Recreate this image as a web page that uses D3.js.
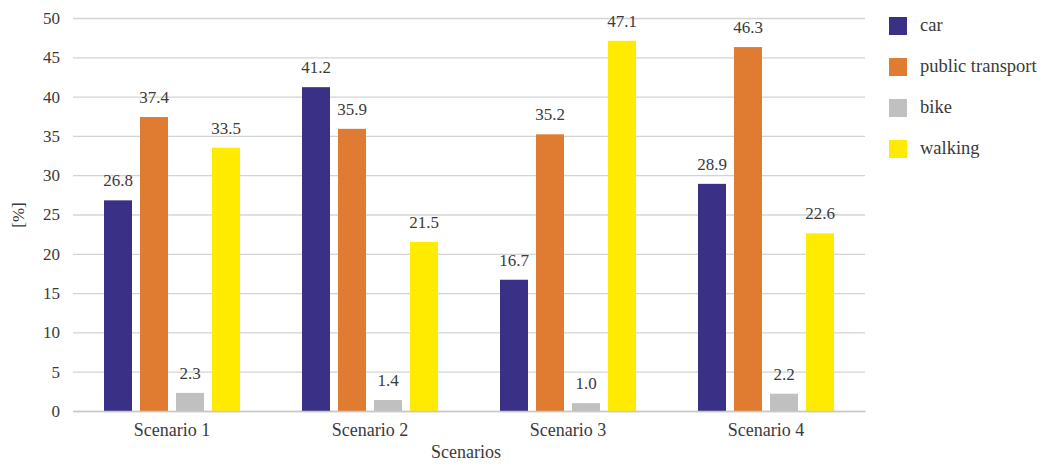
<!DOCTYPE html>
<html>
<head>
<meta charset="utf-8">
<script src="https://cdn.jsdelivr.net/npm/d3@7"></script>
<style>
  body { margin: 0; background: #fff; }
  svg { display: block; }
</style>
</head>
<body>
<svg id="chart" width="1043" height="464"></svg>
<script>
const scenarios = ["Scenario 1", "Scenario 2", "Scenario 3", "Scenario 4"];
const modes = ["car", "public transport", "bike", "walking"];
const car = [26.8, 41.2, 16.7, 28.9];
const publicTransport = [37.4, 35.9, 35.2, 46.3];
const bike = [2.3, 1.4, 1.0, 2.2];
const walking = [33.5, 21.5, 47.1, 22.6];
const yTicks = [0, 5, 10, 15, 20, 25, 30, 35, 40, 45, 50];
const colors = ["#3a3085", "#e07b32", "#bfc0bf", "#ffeb00"];

const seriesValues = [car, publicTransport, bike, walking];
const FONT = "Liberation Serif";
const TEXT = "#3a3a3a";

const svg = d3.select("#chart");
const plot = { left: 73, right: 865, top: 18, bottom: 411 };
const groupWidth = 136;

const x0 = d3.scaleBand().domain(scenarios).range([plot.left, plot.right]).padding(0);
const x1 = d3.scaleBand().domain(modes).range([0, groupWidth]).paddingInner(8 / 36).paddingOuter(0);
const y = d3.scaleLinear().domain([0, 50]).range([plot.bottom, plot.top]);
const color = d3.scaleOrdinal().domain(modes).range(colors);

// Horizontal gridlines and y tick labels
const yAxis = d3.axisLeft(y).tickValues(yTicks).tickSize(-(plot.right - plot.left)).tickPadding(13);
const gy = svg.append("g").attr("transform", `translate(${plot.left},0)`).call(yAxis);
gy.attr("font-family", FONT).attr("font-size", 17);
gy.select(".domain").remove();
gy.selectAll(".tick line").attr("stroke", "#d4d4d4").attr("stroke-width", 1.3);
gy.selectAll(".tick text").attr("fill", TEXT);

// Bars
const groups = svg.append("g").selectAll("g")
  .data(scenarios)
  .join("g")
  .attr("transform", d => `translate(${x0(d) + (x0.bandwidth() - groupWidth) / 2},0)`);

const cells = (s, i) => modes.map((m, k) => ({ mode: m, value: seriesValues[k][i] }));

groups.selectAll("rect")
  .data(cells)
  .join("rect")
  .attr("x", d => x1(d.mode))
  .attr("width", x1.bandwidth())
  .attr("y", d => y(d.value))
  .attr("height", d => y(0) - y(d.value))
  .attr("fill", d => color(d.mode));

groups.selectAll("text.val")
  .data(cells)
  .join("text")
  .attr("class", "val")
  .attr("x", d => x1(d.mode) + x1.bandwidth() / 2)
  .attr("y", d => y(d.value) - 14)
  .attr("text-anchor", "middle")
  .attr("font-family", FONT).attr("font-size", 17).attr("fill", TEXT)
  .text(d => d.value.toFixed(1));

// Baseline (x axis)
const xAxis = d3.axisBottom(x0).tickSize(0).tickPadding(12);
const gx = svg.append("g").attr("transform", `translate(0,${plot.bottom})`).call(xAxis);
gx.attr("font-family", FONT).attr("font-size", 18);
gx.select(".domain").attr("stroke", "#c8c8c8").attr("stroke-width", 1.6);
gx.selectAll(".tick text").attr("fill", TEXT);

// Axis titles
svg.append("text")
  .attr("x", 466).attr("y", 458)
  .attr("text-anchor", "middle")
  .attr("font-family", FONT).attr("font-size", 18).attr("fill", TEXT)
  .text("Scenarios");

svg.append("text")
  .attr("transform", "translate(24,215) rotate(-90)")
  .attr("text-anchor", "middle")
  .attr("font-family", FONT).attr("font-size", 17).attr("fill", TEXT)
  .text("[%]");

// Legend
const legend = svg.append("g").selectAll("g")
  .data(modes)
  .join("g")
  .attr("transform", (d, i) => `translate(889,${17 + i * 41})`);

legend.append("rect")
  .attr("width", 18).attr("height", 18)
  .attr("fill", d => color(d));

legend.append("text")
  .attr("x", 31).attr("y", 14)
  .attr("font-family", FONT).attr("font-size", 18.5).attr("fill", TEXT)
  .text(d => d);
</script>
</body>
</html>
